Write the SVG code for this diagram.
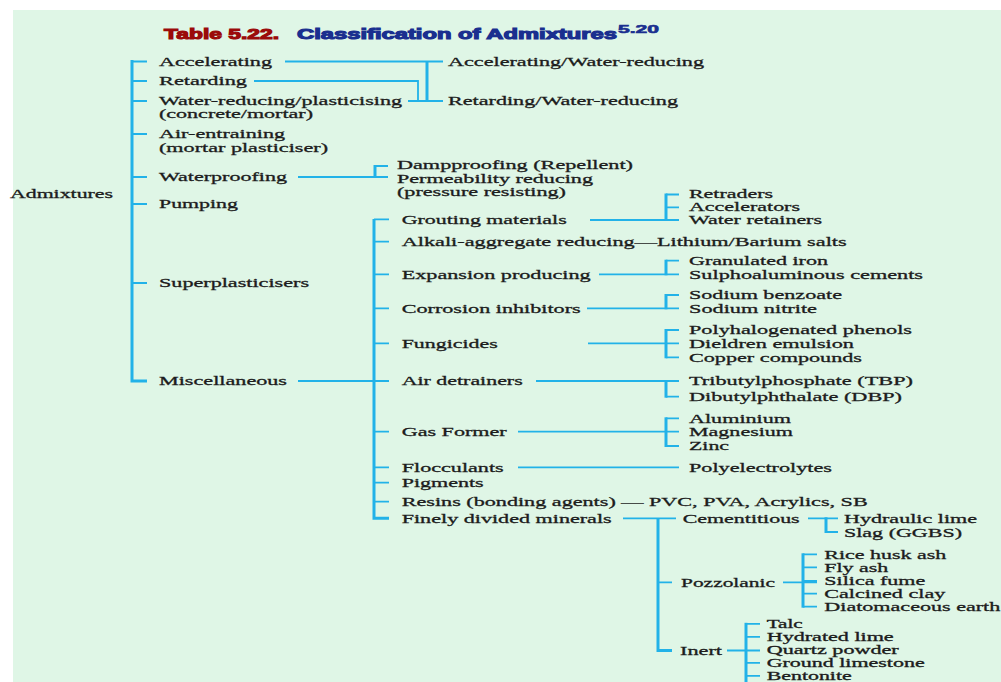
<svg xmlns="http://www.w3.org/2000/svg" width="1001" height="682" viewBox="0 0 1001 682">
<style>
.t{font-family:"Liberation Serif","Times New Roman",serif;font-size:13px;fill:#1c1c1c;stroke:#1c1c1c;stroke-width:0.3}
.s{font-size:11.5px}
.ttl{font-family:"Liberation Sans",Arial,sans-serif;font-weight:bold;font-size:15px;stroke-width:1.1}
.c{stroke:#22b2e8;stroke-width:1.8;fill:none}
.v{stroke:#22b2e8;stroke-width:3;fill:none}
</style>
<rect x="0" y="0" width="1001" height="682" fill="#ffffff"/>
<rect x="13" y="10" width="988" height="672" fill="#dff6e6"/>
<g id="title">
<text class="ttl" x="164" y="38.5" textLength="115" lengthAdjust="spacingAndGlyphs" fill="#9b0a0a" stroke="#9b0a0a">Table 5.22.</text>
<text class="ttl" x="297" y="38.5" textLength="320" lengthAdjust="spacingAndGlyphs" fill="#1a2f8f" stroke="#1a2f8f">Classification of Admixtures</text>
<text class="ttl" x="618" y="33.3" textLength="41" lengthAdjust="spacingAndGlyphs" fill="#1a2f8f" stroke="#1a2f8f" style="font-size:11px;stroke-width:0.6">5.20</text>
</g>
<g id="connectors">
<path class="v" d="M132 60V381H147"/>
<path class="c" d="M132 61.5H147M132 81H147M132 101H147M132 134H147M132 177H147M132 204H147M132 283H147"/>
<path class="c" d="M285 61.5H443M254 81H418V101M408 101H443"/>
<path class="v" d="M427 61.5V101"/>
<path class="c" d="M298 177H388M375 166H388"/>
<path class="v" d="M375 165V178"/>
<path class="c" d="M298 381H374"/>
<path class="v" d="M374 219V518.3H389"/>
<path class="c" d="M374 219.3H389M374 241.7H389M374 274.3H389M374 308.3H389M374 343.3H389M374 381H389M374 431.7H389M374 467.3H389M374 482.7H389M374 501.7H389"/>
<path class="c" d="M590 220H679M666 194.5H679M666 207.3H679"/>
<path class="v" d="M666 193.5V221"/>
<path class="c" d="M599 274.3H679M666 260.7H679"/>
<path class="v" d="M666 259.7V275.3"/>
<path class="c" d="M587 308.3H679M666 295H679"/>
<path class="v" d="M666 294V309.3"/>
<path class="c" d="M588 343.3H679M666 330H679M666 357.3H679"/>
<path class="v" d="M666 329V358.3"/>
<path class="c" d="M536 381H679M666 396.7H679"/>
<path class="v" d="M666 380V397.7"/>
<path class="c" d="M518 431.7H679M666 418.3H679M666 446H679"/>
<path class="v" d="M666 417.3V447"/>
<path class="c" d="M518 467.3H679"/>
<path class="c" d="M623 518.3H676M658 582.3H672"/>
<path class="v" d="M658 518.3V650.5H672"/>
<path class="c" d="M808 518.3H838M826 532H838"/>
<path class="v" d="M826 517.3V533"/>
<path class="c" d="M783 582.3H817M803 554.3H817M803 567.3H817M803 581H817M803 593.7H817M803 606.7H817"/>
<path class="v" d="M803 553.3V607.7"/>
<path class="c" d="M727 650.5H760M746 623.8H760M746 636.8H760M746 662.8H760M746 675.8H760"/>
<path class="v" d="M746 622.8V682"/>
</g>
<g id="admixtures"><text class="t" x="10" y="198" textLength="103" lengthAdjust="spacingAndGlyphs">Admixtures</text></g>
<g id="accelerating"><text class="t" x="159" y="65.5" textLength="113" lengthAdjust="spacingAndGlyphs">Accelerating</text></g>
<g id="retarding"><text class="t" x="159" y="85" textLength="88" lengthAdjust="spacingAndGlyphs">Retarding</text></g>
<g id="water-reducing"><text class="t" x="159" y="104.5" textLength="243" lengthAdjust="spacingAndGlyphs">Water-reducing/plasticising</text><text class="t" x="159" y="118" textLength="154" lengthAdjust="spacingAndGlyphs">(concrete/mortar)</text></g>
<g id="air-entraining"><text class="t" x="159" y="137.5" textLength="126" lengthAdjust="spacingAndGlyphs">Air-entraining</text><text class="t" x="159" y="152" textLength="169" lengthAdjust="spacingAndGlyphs">(mortar plasticiser)</text></g>
<g id="waterproofing"><text class="t" x="159" y="181" textLength="128" lengthAdjust="spacingAndGlyphs">Waterproofing</text></g>
<g id="pumping"><text class="t" x="159" y="207.5" textLength="79" lengthAdjust="spacingAndGlyphs">Pumping</text></g>
<g id="superplasticisers"><text class="t" x="159" y="287" textLength="150" lengthAdjust="spacingAndGlyphs">Superplasticisers</text></g>
<g id="miscellaneous"><text class="t" x="159" y="385" textLength="128" lengthAdjust="spacingAndGlyphs">Miscellaneous</text></g>
<g id="acc-water"><text class="t" x="448" y="65.5" textLength="256" lengthAdjust="spacingAndGlyphs">Accelerating/Water-reducing</text></g>
<g id="ret-water"><text class="t" x="448" y="105" textLength="230" lengthAdjust="spacingAndGlyphs">Retarding/Water-reducing</text></g>
<g id="dampproofing"><text class="t" x="397" y="169" textLength="236" lengthAdjust="spacingAndGlyphs">Dampproofing (Repellent)</text></g>
<g id="permeability"><text class="t" x="397" y="182.5" textLength="196" lengthAdjust="spacingAndGlyphs">Permeability reducing</text><text class="t" x="397" y="196" textLength="169" lengthAdjust="spacingAndGlyphs">(pressure resisting)</text></g>
<g id="grouting"><text class="t" x="401.7" y="223.5" textLength="165" lengthAdjust="spacingAndGlyphs">Grouting materials</text></g>
<g id="alkali"><text class="t" x="401.7" y="245.7" textLength="445" lengthAdjust="spacingAndGlyphs">Alkali-aggregate reducing—Lithium/Barium salts</text></g>
<g id="expansion"><text class="t" x="401.7" y="278.5" textLength="189" lengthAdjust="spacingAndGlyphs">Expansion producing</text></g>
<g id="corrosion"><text class="t" x="401.7" y="312.5" textLength="179" lengthAdjust="spacingAndGlyphs">Corrosion inhibitors</text></g>
<g id="fungicides"><text class="t" x="401.7" y="347.5" textLength="96" lengthAdjust="spacingAndGlyphs">Fungicides</text></g>
<g id="air-detrainers"><text class="t" x="401.7" y="385" textLength="121" lengthAdjust="spacingAndGlyphs">Air detrainers</text></g>
<g id="gas-former"><text class="t" x="401.7" y="436" textLength="105" lengthAdjust="spacingAndGlyphs">Gas Former</text></g>
<g id="flocculants"><text class="t" x="401.7" y="471.5" textLength="102" lengthAdjust="spacingAndGlyphs">Flocculants</text></g>
<g id="pigments"><text class="t" x="401.7" y="487" textLength="82" lengthAdjust="spacingAndGlyphs">Pigments</text></g>
<g id="resins"><text class="t" x="401.7" y="506" textLength="466" lengthAdjust="spacingAndGlyphs">Resins (bonding agents) — PVC, PVA, Acrylics, SB</text></g>
<g id="finely"><text class="t" x="401.7" y="522.5" textLength="210" lengthAdjust="spacingAndGlyphs">Finely divided minerals</text></g>
<g id="retraders"><text class="t" x="689" y="198.3" textLength="84" lengthAdjust="spacingAndGlyphs">Retraders</text></g>
<g id="accelerators"><text class="t" x="689" y="211.3" textLength="111" lengthAdjust="spacingAndGlyphs">Accelerators</text></g>
<g id="water-retainers"><text class="t" x="689" y="224.3" textLength="133" lengthAdjust="spacingAndGlyphs">Water retainers</text></g>
<g id="granulated"><text class="t" x="689" y="265" textLength="139" lengthAdjust="spacingAndGlyphs">Granulated iron</text></g>
<g id="sulpho"><text class="t" x="689" y="278.5" textLength="234" lengthAdjust="spacingAndGlyphs">Sulphoaluminous cements</text></g>
<g id="benzoate"><text class="t" x="689" y="299" textLength="153" lengthAdjust="spacingAndGlyphs">Sodium benzoate</text></g>
<g id="nitrite"><text class="t" x="689" y="312.5" textLength="128" lengthAdjust="spacingAndGlyphs">Sodium nitrite</text></g>
<g id="polyhalo"><text class="t" x="689" y="334" textLength="223" lengthAdjust="spacingAndGlyphs">Polyhalogenated phenols</text></g>
<g id="dieldren"><text class="t" x="689" y="347.5" textLength="165" lengthAdjust="spacingAndGlyphs">Dieldren emulsion</text></g>
<g id="copper"><text class="t" x="689" y="361.5" textLength="173" lengthAdjust="spacingAndGlyphs">Copper compounds</text></g>
<g id="tbp"><text class="t" x="689" y="385" textLength="224" lengthAdjust="spacingAndGlyphs">Tributylphosphate (TBP)</text></g>
<g id="dbp"><text class="t" x="689" y="400.5" textLength="213" lengthAdjust="spacingAndGlyphs">Dibutylphthalate (DBP)</text></g>
<g id="aluminium"><text class="t" x="689" y="422.5" textLength="102" lengthAdjust="spacingAndGlyphs">Aluminium</text></g>
<g id="magnesium"><text class="t" x="689" y="436" textLength="104" lengthAdjust="spacingAndGlyphs">Magnesium</text></g>
<g id="zinc"><text class="t" x="689" y="450" textLength="40" lengthAdjust="spacingAndGlyphs">Zinc</text></g>
<g id="polyelectrolytes"><text class="t" x="689" y="471.5" textLength="143" lengthAdjust="spacingAndGlyphs">Polyelectrolytes</text></g>
<g id="cementitious"><text class="t" x="682.7" y="522.5" textLength="117" lengthAdjust="spacingAndGlyphs">Cementitious</text></g>
<g id="hydraulic"><text class="t" x="844" y="523" textLength="133" lengthAdjust="spacingAndGlyphs">Hydraulic lime</text></g>
<g id="slag"><text class="t" x="844" y="537" textLength="118" lengthAdjust="spacingAndGlyphs">Slag (GGBS)</text></g>
<g id="pozzolanic"><text class="t" x="681" y="586.5" textLength="94" lengthAdjust="spacingAndGlyphs">Pozzolanic</text></g>
<g id="rice"><text class="t" x="824.3" y="558.5" textLength="122" lengthAdjust="spacingAndGlyphs">Rice husk ash</text></g>
<g id="flyash"><text class="t" x="824.3" y="571.5" textLength="64" lengthAdjust="spacingAndGlyphs">Fly ash</text></g>
<g id="silica"><text class="t" x="824.3" y="585" textLength="101" lengthAdjust="spacingAndGlyphs">Silica fume</text></g>
<g id="calcined"><text class="t" x="824.3" y="598" textLength="121" lengthAdjust="spacingAndGlyphs">Calcined clay</text></g>
<g id="diatomaceous"><text class="t" x="824.3" y="611" textLength="176" lengthAdjust="spacingAndGlyphs">Diatomaceous earth</text></g>
<g id="inert"><text class="t" x="680" y="654.5" textLength="42" lengthAdjust="spacingAndGlyphs">Inert</text></g>
<g id="talc"><text class="t s" x="766.7" y="627.5" textLength="36" lengthAdjust="spacingAndGlyphs">Talc</text></g>
<g id="hydrated"><text class="t s" x="766.7" y="640.5" textLength="127" lengthAdjust="spacingAndGlyphs">Hydrated lime</text></g>
<g id="quartz"><text class="t s" x="766.7" y="653.5" textLength="132" lengthAdjust="spacingAndGlyphs">Quartz powder</text></g>
<g id="ground"><text class="t s" x="766.7" y="666.5" textLength="158" lengthAdjust="spacingAndGlyphs">Ground limestone</text></g>
<g id="bentonite"><text class="t s" x="766.7" y="679.5" textLength="85" lengthAdjust="spacingAndGlyphs">Bentonite</text></g>
</svg>
